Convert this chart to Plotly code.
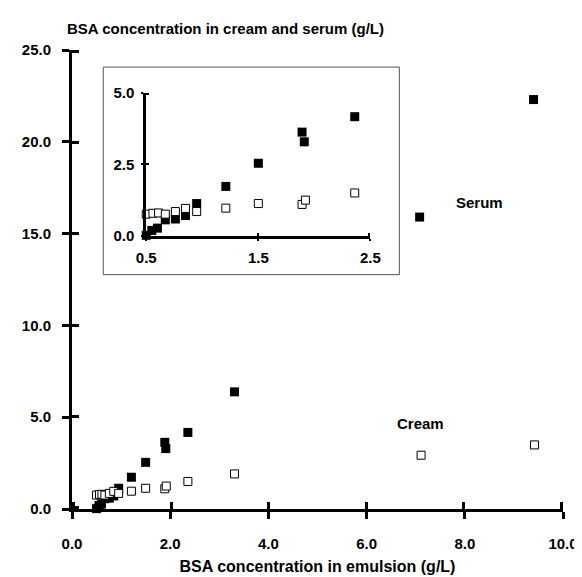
import plotly.graph_objects as go

# ---- data ----
emulsion = [0.50, 0.55, 0.60, 0.67, 0.76, 0.85, 0.95, 1.21, 1.50, 1.89, 1.91, 2.36, 3.31, 7.08, 9.40]
serum = [0.02, 0.19, 0.27, 0.56, 0.59, 0.71, 1.13, 1.73, 2.54, 3.63, 3.29, 4.17, 6.38, 15.9, 22.3]
cream_x = [0.50, 0.56, 0.61, 0.67, 0.76, 0.85, 0.95, 1.21, 1.50, 1.89, 1.92, 2.36, 3.31, 7.11, 9.42]
cream = [0.76, 0.79, 0.80, 0.76, 0.85, 0.96, 0.85, 0.97, 1.13, 1.10, 1.25, 1.50, 1.91, 2.93, 3.49]

main_xticks = [0, 2, 4, 6, 8, 10]
main_xlabels = ["0.0", "2.0", "4.0", "6.0", "8.0", "10.0"]
main_yticks = [0, 5, 10, 15, 20, 25]
main_ylabels = ["0.0", "5.0", "10.0", "15.0", "20.0", "25.0"]
inset_xticks = [0.5, 1.5, 2.5]
inset_xlabels = ["0.5", "1.5", "2.5"]
inset_yticks = [0, 2.5, 5]
inset_ylabels = ["0.0", "2.5", "5.0"]
inset_limit = 2.5

FONT = "Liberation Sans, Arial, Helvetica, sans-serif"
tickfont = dict(family=FONT, size=15, color="black", weight="bold")

fig = go.Figure()

filled = dict(symbol="square", size=9, color="black", line=dict(color="black", width=0))
opened = dict(symbol="square", size=8, color="white", line=dict(color="black", width=1))

# main plot
fig.add_trace(go.Scatter(x=emulsion, y=serum, mode="markers", marker=filled,
                         cliponaxis=False, showlegend=False, name="Serum"))
fig.add_trace(go.Scatter(x=cream_x, y=cream, mode="markers", marker=opened,
                         cliponaxis=False, showlegend=False, name="Cream"))

# inset plot
ix = [x for x in emulsion if x <= inset_limit]
iy = [y for x, y in zip(emulsion, serum) if x <= inset_limit]
cx = [x for x in cream_x if x <= inset_limit]
cy = [y for x, y in zip(cream_x, cream) if x <= inset_limit]
fig.add_trace(go.Scatter(x=ix, y=iy, mode="markers", marker=filled, xaxis="x2", yaxis="y2",
                         cliponaxis=False, showlegend=False, name="Serum"))
fig.add_trace(go.Scatter(x=cx, y=cy, mode="markers", marker=opened, xaxis="x2", yaxis="y2",
                         cliponaxis=False, showlegend=False, name="Cream"))

# invisible helper traces for the companion (inner-tick) subplots, which share the same domains
fig.add_trace(go.Scatter(x=[emulsion[0]], y=[serum[0]], xaxis="x3", yaxis="y3", mode="markers",
                         marker=dict(opacity=0), showlegend=False, hoverinfo="skip"))
fig.add_trace(go.Scatter(x=[emulsion[0]], y=[serum[0]], xaxis="x4", yaxis="y4", mode="markers",
                         marker=dict(opacity=0), showlegend=False, hoverinfo="skip"))

main_dx = [0, 1]
main_dy = [0, 1]
inset_dx = [0.1512, 0.6078]
inset_dy = [0.5951, 0.9064]

common = dict(showgrid=False, zeroline=False, fixedrange=True)
inner = dict(ticks="inside", showticklabels=False, showline=False)

fig.update_layout(
    width=582, height=577,
    margin=dict(l=64, r=20, t=42, b=65),
    paper_bgcolor="white", plot_bgcolor="rgba(0,0,0,0)",
    font=dict(family=FONT, color="black"),
    title=dict(text="BSA concentration in cream and serum (g/L)",
               x=59 / 582, xanchor="left", xref="container",
               y=1 - 21 / 577, yanchor="middle", yref="container",
               font=dict(family=FONT, size=15, color="black", weight="bold")),
    xaxis=dict(range=[0, 10], domain=main_dx, anchor="y", tickvals=main_xticks, ticktext=main_xlabels,
               ticks="outside", ticklen=7, tickwidth=3, tickcolor="black",
               showline=True, linewidth=3, linecolor="black", tickfont=tickfont,
               ticklabelstandoff=12,
               title=dict(text="BSA concentration in emulsion (g/L)", standoff=10,
                          font=dict(family=FONT, size=16, color="black", weight="bold")),
               **common),
    yaxis=dict(range=[0, 25], domain=main_dy, anchor="x", tickvals=main_yticks, ticktext=main_ylabels,
               ticks="outside", ticklen=7, tickwidth=3, tickcolor="black",
               showline=True, linewidth=3, linecolor="black", tickfont=tickfont,
               ticklabelstandoff=8, **common),
    # companion axes: inner half of the crossing tick marks (range padded ~1.5px so end ticks show)
    xaxis3=dict(range=[-0.03, 10.03], domain=main_dx, anchor="y3",
                tickvals=main_xticks, ticklen=7, tickwidth=3, tickcolor="black", **inner, **common),
    yaxis3=dict(range=[-0.08, 25.08], domain=main_dy, anchor="x3",
                tickvals=main_yticks, ticklen=7, tickwidth=3, tickcolor="black", **inner, **common),
    xaxis2=dict(range=[0.5, 2.5], domain=inset_dx, anchor="y2", tickvals=inset_xticks, ticktext=inset_xlabels,
                ticks="outside", ticklen=2, tickwidth=2, tickcolor="black",
                showline=True, linewidth=3, linecolor="black", tickfont=tickfont,
                ticklabelstandoff=4, **common),
    yaxis2=dict(range=[0, 5], domain=inset_dy, anchor="x2", tickvals=inset_yticks, ticktext=inset_ylabels,
                ticks="outside", ticklen=2, tickwidth=2, tickcolor="black",
                showline=True, linewidth=3, linecolor="black", tickfont=tickfont,
                ticklabelstandoff=4, **common),
    xaxis4=dict(range=[0.487, 2.513], domain=inset_dx, anchor="y4",
                tickvals=inset_xticks, ticklen=3, tickwidth=2, tickcolor="black", **inner, **common),
    yaxis4=dict(range=[-0.05, 5.05], domain=inset_dy, anchor="x4",
                tickvals=inset_yticks, ticklen=3, tickwidth=2, tickcolor="black", **inner, **common),
    shapes=[dict(type="rect", xref="paper", yref="paper", x0=0.0637, x1=0.6667, y0=0.5106, y1=0.9628,
                 line=dict(color="#555555", width=1), fillcolor="white", layer="below")],
    annotations=[
        dict(text="Serum", x=8.29, y=16.72, xref="x", yref="y", showarrow=False,
             font=dict(family=FONT, size=15, color="black", weight="bold")),
        dict(text="Cream", x=7.09, y=4.68, xref="x", yref="y", showarrow=False,
             font=dict(family=FONT, size=15, color="black", weight="bold")),
    ],
)

fig.write_html("out.html")
